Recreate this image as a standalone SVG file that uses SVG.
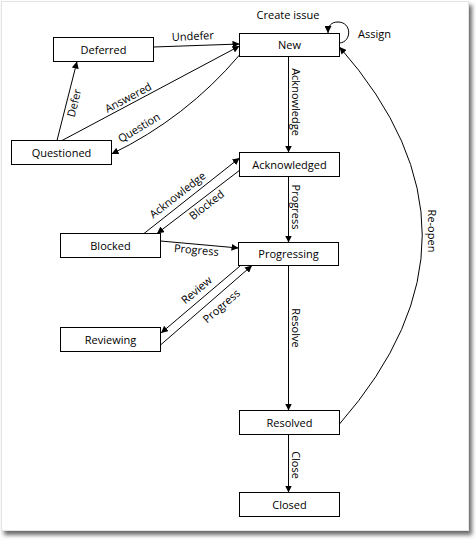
<svg xmlns="http://www.w3.org/2000/svg" width="476" height="541" viewBox="0 0 476 541">
<style>
.node rect{fill:#fff;stroke:#000;stroke-width:1}
text{font-family:"Open Sans","DejaVu Sans",sans-serif;font-size:11px;fill:#000}
.c{text-anchor:middle}
.e{fill:none;stroke:#000;stroke-width:1}
</style>
<defs>
<marker id="ah" viewBox="0 0 8 8" refX="8" refY="4" markerWidth="7" markerHeight="7" markerUnits="userSpaceOnUse" orient="auto">
<path d="M0,0 L8,4 L0,8 z" fill="#000"/>
</marker>
<filter id="sh" x="-5%" y="-5%" width="110%" height="110%">
<feDropShadow dx="3" dy="4" stdDeviation="2" flood-color="#444" flood-opacity="0.8"/>
</filter>
</defs>
<rect x="0" y="0" width="476" height="541" fill="#fff"/>
<rect x="1.5" y="1.5" width="467" height="529" fill="#fff" stroke="#e4e4e4" filter="url(#sh)"/>

<g id="connectors">
<line class="e" x1="288.5" y1="56.5" x2="288.5" y2="152.5" marker-end="url(#ah)"/>
<line class="e" x1="288.5" y1="176.5" x2="288.5" y2="242.5" marker-end="url(#ah)"/>
<line class="e" x1="288.5" y1="265.5" x2="288.5" y2="410.5" marker-end="url(#ah)"/>
<line class="e" x1="288.5" y1="434.5" x2="288.5" y2="492.5" marker-end="url(#ah)"/>
<line class="e" x1="153.5" y1="47" x2="239.5" y2="44" marker-end="url(#ah)"/>
<line class="e" x1="62" y1="140.5" x2="239.5" y2="46" marker-end="url(#ah)"/>
<line class="e" x1="57" y1="140.5" x2="77" y2="61.5" marker-end="url(#ah)"/>
<path class="e" d="M239.5,55 Q186,118 111.5,154" marker-end="url(#ah)"/>
<line class="e" x1="144" y1="233.5" x2="239.5" y2="158" marker-end="url(#ah)"/>
<line class="e" x1="240" y1="170" x2="157" y2="233.5" marker-end="url(#ah)"/>
<line class="e" x1="160.5" y1="241" x2="238.5" y2="248" marker-end="url(#ah)"/>
<line class="e" x1="240" y1="266" x2="161" y2="333" marker-end="url(#ah)"/>
<line class="e" x1="160.5" y1="345" x2="252" y2="265.5" marker-end="url(#ah)"/>
<path class="e" d="M339.5,424 Q505,235 339.5,47" marker-end="url(#ah)"/>
<path class="e" d="M339.5,43 C352,42 352,22 338,22 C331,22 328,26 328,33" marker-end="url(#ah)"/>

<text class="c" x="288" y="19">Create issue</text>
<text x="358" y="38">Assign</text>
<text class="c" transform="translate(193,40) rotate(-3)">Undefer</text>
<text class="c" transform="translate(130,101) rotate(-28)">Answered</text>
<text class="c" transform="translate(141,131) rotate(-31)">Question</text>
<text class="c" transform="translate(78,104) rotate(-76)">Defer</text>
<text class="c" transform="translate(180,198) rotate(-38)">Acknowledge</text>
<text class="c" transform="translate(209,208) rotate(-38)">Blocked</text>
<text class="c" transform="translate(196,254) rotate(5)">Progress</text>
<text class="c" transform="translate(199,293) rotate(-40)">Review</text>
<text class="c" transform="translate(224,309) rotate(-41)">Progress</text>
<text class="c" transform="translate(292,102) rotate(90)">Acknowledge</text>
<text class="c" transform="translate(292,207) rotate(90)">Progress</text>
<text class="c" transform="translate(292,328) rotate(90)">Resolve</text>
<text class="c" transform="translate(292,465) rotate(90)">Close</text>
<text class="c" transform="translate(428,231) rotate(90)">Re-open</text>
</g>

<g id="deferred" class="node"><rect x="53.5" y="37.5" width="100" height="24"/><text class="c" x="103.5" y="53.5">Deferred</text></g>
<g id="new" class="node"><rect x="239.5" y="33.5" width="100" height="23"/><text class="c" x="289.5" y="49">New</text></g>
<g id="questioned" class="node"><rect x="11.5" y="140.5" width="100" height="24"/><text class="c" x="61.5" y="156.5">Questioned</text></g>
<g id="acknowledged" class="node"><rect x="239.5" y="152.5" width="100" height="24"/><text class="c" x="289.5" y="168.5">Acknowledged</text></g>
<g id="blocked" class="node"><rect x="60.5" y="233.5" width="100" height="24"/><text class="c" x="110.5" y="249.5">Blocked</text></g>
<g id="progressing" class="node"><rect x="238.5" y="242.5" width="100" height="23"/><text class="c" x="288.5" y="258">Progressing</text></g>
<g id="reviewing" class="node"><rect x="60.5" y="327.5" width="100" height="24"/><text class="c" x="110.5" y="343.5">Reviewing</text></g>
<g id="resolved" class="node"><rect x="239.5" y="410.5" width="100" height="24"/><text class="c" x="289.5" y="426.5">Resolved</text></g>
<g id="closed" class="node"><rect x="239.5" y="492.5" width="100" height="24"/><text class="c" x="289.5" y="508.5">Closed</text></g>
</svg>
